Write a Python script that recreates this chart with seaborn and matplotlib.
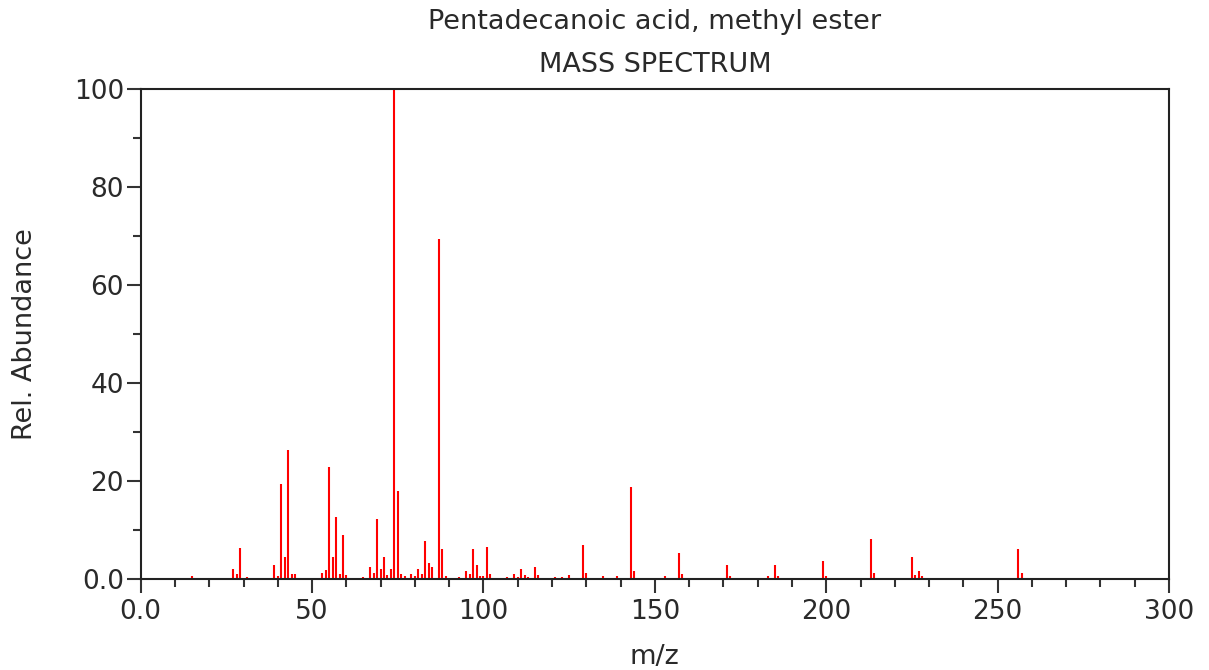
import matplotlib
matplotlib.use("Agg")
import matplotlib.pyplot as plt
import seaborn as sns
import numpy as np
import pandas as pd
from matplotlib.ticker import MultipleLocator, FuncFormatter

title_main = "Pentadecanoic acid, methyl ester"
title_sub = "MASS SPECTRUM"
x_label = "m/z"
y_label = "Rel. Abundance"

mz = [15, 27, 28, 29, 31, 39, 40, 41, 42, 43, 44, 45, 51, 52, 53, 54, 55, 56, 57, 58,
      59, 60, 65, 66, 67, 68, 69, 70, 71, 72, 73, 74, 75, 76, 77, 79, 80, 81, 82, 83,
      84, 85, 87, 88, 89, 93, 95, 96, 97, 98, 99, 100, 101, 102, 107, 109, 110, 111, 112, 113,
      115, 116, 121, 123, 125, 129, 130, 135, 139, 143, 144, 153, 157, 158, 171, 172, 181, 183, 185, 186,
      199, 200, 213, 214, 223, 225, 226, 227, 228, 256, 257, 258]
abundance = [0.6, 2.2, 1.0, 6.3, 0.5, 3.0, 0.6, 19.4, 4.6, 26.3, 1.0, 1.0, 0.3, 0.3, 1.3, 1.8, 23.0, 4.6, 12.7, 1.0,
             9.1, 0.8, 0.5, 0.3, 2.5, 1.3, 12.3, 2.1, 4.6, 0.8, 2.1, 100.0, 18.1, 1.0, 0.6, 1.0, 0.6, 2.1, 1.0, 7.8,
             3.3, 2.5, 69.5, 6.2, 0.7, 0.4, 1.7, 1.0, 6.2, 2.9, 0.7, 0.6, 6.6, 1.0, 0.5, 1.0, 0.5, 2.1, 0.8, 0.5,
             2.5, 0.8, 0.5, 0.5, 0.9, 7.0, 1.3, 0.6, 0.6, 18.9, 1.7, 0.6, 5.4, 1.0, 2.9, 0.6, 0.3, 0.6, 2.9, 0.6,
             3.7, 0.6, 8.2, 1.3, 0.3, 4.6, 0.9, 1.7, 0.6, 6.2, 1.3, 0.3]

df = pd.DataFrame({"mz": mz, "abundance": abundance})

sns.set_theme(style="ticks")
plt.rcParams['font.family'] = ['DejaVu Sans']

W, H = 1209, 670
L, R, T, B = 140.7, 1169.0, 89.3, 579.3
TXT = "#2a2a2a"

fig = plt.figure(figsize=(W / 100, H / 100), dpi=100)
ax = fig.add_axes([L / W, 1 - B / H, (R - L) / W, (B - T) / H])

ax.vlines(df["mz"], 0, df["abundance"], color="#ff0000", linewidth=1.5)

ax.set_xlim(0, 300)
ax.set_ylim(0, 100)
ax.xaxis.set_major_locator(MultipleLocator(50))
ax.xaxis.set_minor_locator(MultipleLocator(10))
ax.yaxis.set_major_locator(MultipleLocator(20))
ax.yaxis.set_minor_locator(MultipleLocator(10))
fmt = FuncFormatter(lambda v, p: "0.0" if v == 0 else f"{v:.0f}")
ax.xaxis.set_major_formatter(fmt)
ax.yaxis.set_major_formatter(fmt)

for s in ax.spines.values():
    s.set_visible(True)
    s.set_color("#222222")
    s.set_linewidth(1.5)

ax.tick_params(axis="both", which="major", direction="out", length=10, width=1.5,
               color="#333333", labelsize=19, labelcolor=TXT, pad=2)
ax.tick_params(axis="both", which="minor", direction="out", length=6, width=1.5, color="#333333")
ax.tick_params(axis="x", which="major", pad=4)

ax.set_xlabel(x_label, fontsize=19.5, labelpad=14, color=TXT)
ax.set_ylabel(y_label, fontsize=19.5, labelpad=26, color=TXT)

cx = (L + R) / 2 / W
fig.text(cx, 1 - 22 / H, title_main, ha="center", va="center", fontsize=19.5, color=TXT)
fig.text(cx, 1 - 65 / H, title_sub, ha="center", va="center", fontsize=19.5, color=TXT)

fig.savefig("out.png", dpi=100)
